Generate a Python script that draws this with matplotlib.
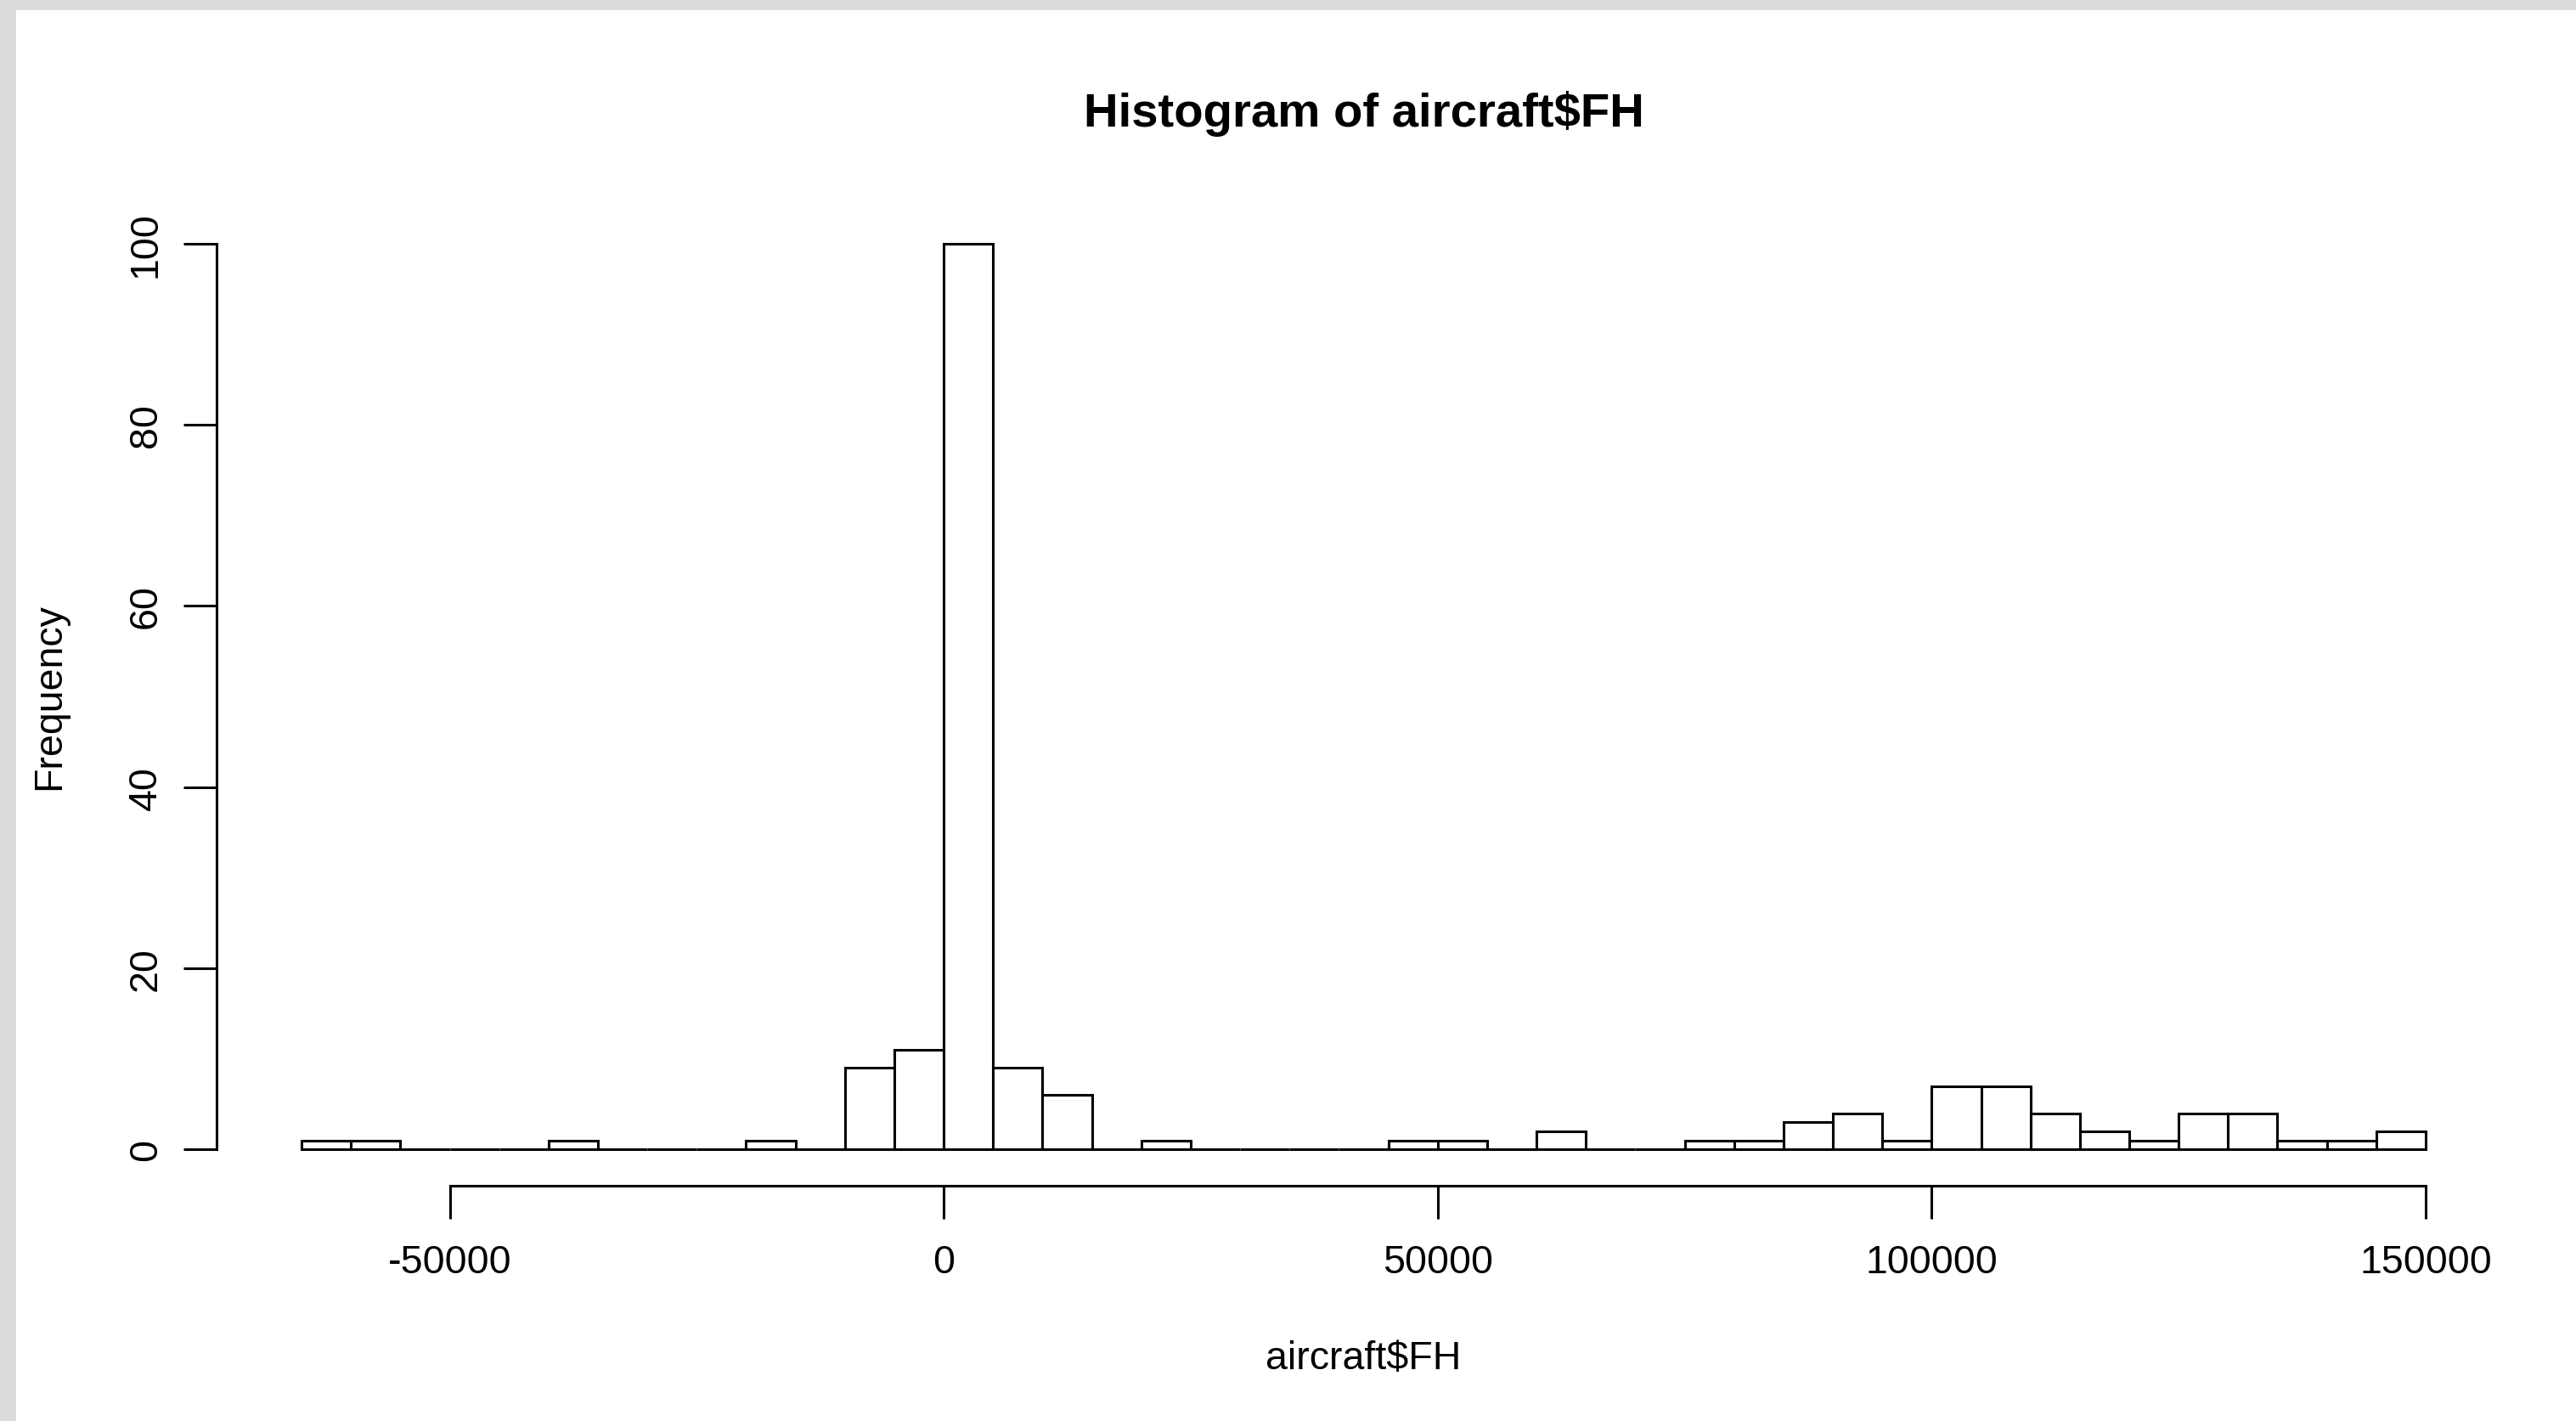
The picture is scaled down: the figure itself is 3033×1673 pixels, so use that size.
import matplotlib.pyplot as plt
import matplotlib.patches as mpatches
import numpy as np

# Histogram of aircraft$FH: bins of width 5000 from -65000 to 150000
bin_start = -65000
bin_width = 5000
counts = [1, 1, 0, 0, 0, 1, 0, 0, 0, 1, 0, 9, 11,
          100, 9, 6, 0, 1, 0, 0, 0, 0, 1, 1, 0, 2, 0, 0,
          1, 1, 3, 4, 1, 7, 7, 4, 2, 1, 4, 4, 1, 1, 2]
x_ticks = [-50000, 0, 50000, 100000, 150000]
y_ticks = [0, 20, 40, 60, 80, 100]

edges = bin_start + bin_width * np.arange(len(counts) + 1)

plt.rcParams['font.family'] = ['Liberation Sans', 'DejaVu Sans']

fig = plt.figure(figsize=(30.33, 16.74), dpi=100)
fig.patch.set_facecolor('white')

# grey frame strips at top and left like the screenshot
fig.patches.append(mpatches.Rectangle((0, 1 - 13 / 1674), 1, 13 / 1674, transform=fig.transFigure,
                                      facecolor='#dcdcdc', edgecolor='none', zorder=0))
fig.patches.append(mpatches.Rectangle((0, 0), 19 / 3033, 1, transform=fig.transFigure,
                                      facecolor='#dcdcdc', edgecolor='none', zorder=0))

ax = fig.add_axes([255 / 3033, 1 - 1397 / 1674, (2956 - 255) / 3033, (1397 - 245) / 1674])

ax.bar(edges[:-1], counts, width=bin_width, align='edge',
       facecolor='white', edgecolor='black', linewidth=2.2)

# R style axes: 4% padding, detached axis lines
rng = edges[-1] - edges[0]
ax.set_xlim(edges[0] - 0.04 * rng, edges[-1] + 0.04 * rng)
ax.set_ylim(-4, 104)

for s in ['top', 'right']:
    ax.spines[s].set_visible(False)
ax.spines['left'].set_bounds(0, 100)
ax.spines['bottom'].set_bounds(-50000, 150000)
for s in ['left', 'bottom']:
    ax.spines[s].set_linewidth(2.2)

ax.set_xticks(x_ticks)
ax.set_xticklabels([str(t) for t in x_ticks])
ax.set_yticks(y_ticks)
ax.set_yticklabels([str(t) for t in y_ticks], rotation=90, va='center')
ax.tick_params(axis='both', direction='out', length=28, width=2.2, labelsize=33.5)
ax.tick_params(axis='x', pad=21)
ax.tick_params(axis='y', pad=16)

fig.text((255 + 2956) / 2 / 3033, 1 - 134 / 1674, 'Histogram of aircraft$FH',
         ha='center', va='center', fontsize=40.5, fontweight='bold')
fig.text((255 + 2956) / 2 / 3033, 1 - 1600 / 1674, 'aircraft$FH',
         ha='center', va='center', fontsize=33.5)
fig.text(58 / 3033, 1 - 820 / 1674, 'Frequency',
         ha='center', va='center', fontsize=33.5, rotation=90)

fig.savefig('out.png', dpi=100)
